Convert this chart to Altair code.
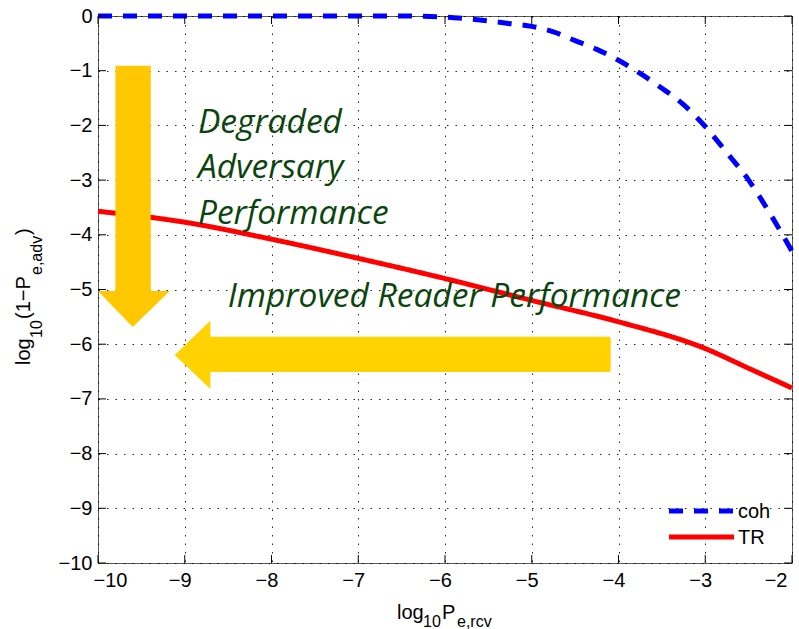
import altair as alt
import pandas as pd

# ---------------- data ----------------
series_names = ["coh", "TR"]
coh_x = [-10, -9, -8, -7, -6.5, -6, -5.75, -5.5, -5.25, -5, -4.75, -4.5, -4.25,
         -4, -3.75, -3.5, -3.25, -3, -2.75, -2.5, -2.25, -2]
coh_y = [0, 0, 0, 0, 0, -0.02, -0.05, -0.09, -0.14, -0.19, -0.29, -0.45, -0.61,
         -0.81, -1.05, -1.32, -1.62, -2.02, -2.5, -3.0, -3.62, -4.3]
tr_x = [-10, -9, -8, -7, -6, -5, -4, -3, -2.5, -2]
tr_y = [-3.57, -3.77, -4.08, -4.43, -4.8, -5.2, -5.59, -6.08, -6.44, -6.8]
x_ticks = [-10, -9, -8, -7, -6, -5, -4, -3, -2]
y_ticks = [0, -1, -2, -3, -4, -5, -6, -7, -8, -9, -10]
annot_lines = ["Degraded", "Adversary", "Performance"]
annot_h = "Improved Reader Performance"

W, H = 694, 547

lines_df = pd.DataFrame(
    {"x": coh_x + tr_x,
     "y": coh_y + tr_y,
     "series": ["coh"] * len(coh_x) + ["TR"] * len(tr_x)}
)
xt = pd.DataFrame({"v": x_ticks})
yt = pd.DataFrame({"v": y_ticks})

xs = alt.Scale(domain=[-10, -2], nice=False, zero=False)
ys = alt.Scale(domain=[-10, 0], nice=False, zero=False)

axis_common = dict(
    grid=True, gridColor="#000000", gridDash=[1.5, 7], gridOpacity=0.85, gridWidth=1,
    ticks=False, domain=False, title=None,
    labelFont="Liberation Sans", labelFontSize=20, labelColor="#000000",
)

lines = alt.Chart(lines_df).mark_line(strokeWidth=5, interpolate="monotone").encode(
    x=alt.X("x:Q", scale=xs, axis=alt.Axis(values=x_ticks, format="d", labelPadding=7,
                                            labelOffset=-5, **axis_common)),
    y=alt.Y("y:Q", scale=ys, axis=alt.Axis(values=y_ticks, format="d", labelPadding=6,
                                            **axis_common)),
    color=alt.Color("series:N", scale=alt.Scale(domain=series_names, range=["#0000FF", "#FF0000"]),
                    legend=None),
    strokeDash=alt.StrokeDash("series:N", scale=alt.Scale(domain=series_names, range=[[14, 11], [1, 0]]),
                              legend=None),
)

# inward ticks (MATLAB style) on all four sides
tick_len = 8
t_bottom = alt.Chart(xt).mark_rule(color="#000", strokeWidth=1).encode(
    x="v:Q", y=alt.value(H), y2=alt.value(H - tick_len))
t_top = alt.Chart(xt).mark_rule(color="#000", strokeWidth=1).encode(
    x="v:Q", y=alt.value(0), y2=alt.value(tick_len))
t_left = alt.Chart(yt).mark_rule(color="#000", strokeWidth=1).encode(
    y="v:Q", x=alt.value(0), x2=alt.value(tick_len))
t_right = alt.Chart(yt).mark_rule(color="#000", strokeWidth=1).encode(
    y="v:Q", x=alt.value(W - tick_len), x2=alt.value(W))

# arrows (annotation shapes in data coordinates)
v_shaft = alt.Chart(pd.DataFrame({"x": [-9.799], "x2": [-9.392], "y": [-0.909], "y2": [-5.1]})) \
    .mark_rect(color="#FFC800").encode(x="x:Q", x2="x2:Q", y="y:Q", y2="y2:Q")
v_head = alt.Chart(pd.DataFrame({"x": [-10.0, -9.6, -9.173],
                                 "y": [-5.027, -5.686, -5.027],
                                 "y2": [-5.027, -5.027, -5.027]})) \
    .mark_area(color="#FFC800", interpolate="linear").encode(x="x:Q", y="y:Q", y2="y2:Q")
h_shaft = alt.Chart(pd.DataFrame({"x": [-8.76], "x2": [-4.09], "y": [-5.863], "y2": [-6.508]})) \
    .mark_rect(color="#FFD200", cornerRadius=2).encode(x="x:Q", x2="x2:Q", y="y:Q", y2="y2:Q")
h_head = alt.Chart(pd.DataFrame({"y": [-5.570, -6.197, -6.819],
                                 "x": [-8.704, -9.116, -8.704],
                                 "x2": [-8.704, -8.704, -8.704]})) \
    .mark_area(color="#FFD200", orient="horizontal", interpolate="linear") \
    .encode(y="y:Q", x="x:Q", x2="x2:Q")

# annotation texts
annot_style = dict(font="Open Sans", fontStyle="italic", fontSize=33.5, color="#0A450E",
                   align="left", baseline="alphabetic")
annot_df = pd.DataFrame({"t": annot_lines, "x": [-8.848] * 3, "y": [-2.139, -2.962, -3.803]})
annot = alt.Chart(annot_df).mark_text(**annot_style).encode(x="x:Q", y="y:Q", text="t:N")
annot2 = alt.Chart(pd.DataFrame({"t": [annot_h], "x": [-8.505], "y": [-5.314]})) \
    .mark_text(**annot_style).encode(x="x:Q", y="y:Q", text="t:N")

# legend (manual, MATLAB style)
leg = []
leg.append(alt.Chart(pd.DataFrame({"s": ["coh"]})).mark_rule(color="#0000FF", strokeWidth=5, strokeDash=[14, 11])
           .encode(x=alt.value(571), x2=alt.value(636), y=alt.value(495)))
leg.append(alt.Chart(pd.DataFrame({"s": ["TR"]})).mark_rule(color="#FF0000", strokeWidth=5)
           .encode(x=alt.value(571), x2=alt.value(636), y=alt.value(521)))
leg.append(alt.Chart(pd.DataFrame({"s": ["coh"]})).mark_text(font="Liberation Sans", fontSize=20, align="left",
                                                            baseline="middle", color="#000")
           .encode(x=alt.value(640), y=alt.value(496), text="s:N"))
leg.append(alt.Chart(pd.DataFrame({"s": ["TR"]})).mark_text(font="Liberation Sans", fontSize=20, align="left",
                                                           baseline="middle", color="#000")
           .encode(x=alt.value(640), y=alt.value(522), text="s:N"))

# axis titles with subscripts
def piece(txt, x, y, size, angle=0):
    kw = dict(font="Liberation Sans", fontSize=size, align="left", baseline="alphabetic", color="#000")
    if angle:
        kw["angle"] = angle
    return alt.Chart(pd.DataFrame({"t": [txt]})).mark_text(**kw).encode(
        x=alt.value(x), y=alt.value(y), text="t:N")

xtitle = [
    piece("log", 299, 603, 20),
    piece("10", 325, 611, 16),
    piece("P", 344, 603, 20),
    piece("e,rcv", 359, 611, 16),
]
ytitle = [
    piece("log", -68, 349, 20, 270),
    piece("10", -56, 322, 16, 270),
    piece("(1−P", -68, 303, 20, 270),
    piece("e,adv", -56, 259, 16, 270),
    piece(")", -68, 219, 20, 270),
]

chart = alt.layer(
    lines, v_shaft, v_head, h_shaft, h_head, annot, annot2,
    t_bottom, t_top, t_left, t_right, *leg, *xtitle, *ytitle
).properties(
    width=W, height=H,
    autosize=alt.AutoSizeParams(type="none"),
    padding={"left": 98, "top": 16, "right": 7, "bottom": 66},
    background="white",
).configure_view(stroke="#5a5a5a", strokeWidth=1)

chart.save("out.html", embed_options={"renderer": "svg", "actions": False})
